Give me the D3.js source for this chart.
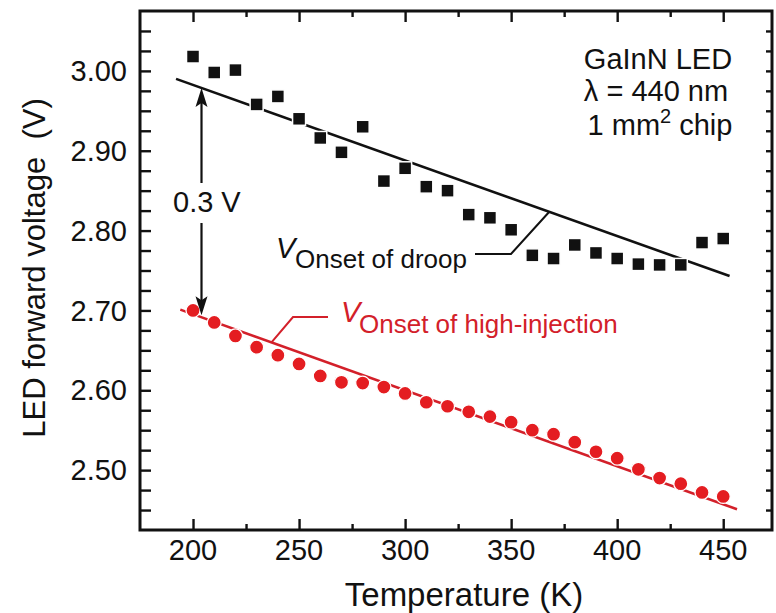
<!DOCTYPE html>
<html>
<head>
<meta charset="utf-8">
<script src="https://cdn.jsdelivr.net/npm/d3@7"></script>
<style>
  html, body { margin: 0; padding: 0; background: #ffffff; }
  svg { display: block; font-family: "Liberation Sans", Arial, Helvetica, sans-serif; }
</style>
</head>
<body>
<svg id="chart" width="776" height="613"></svg>
<script>
// ---------------- data ----------------
const temperatures = [200, 210, 220, 230, 240, 250, 260, 270, 280, 290, 300, 310, 320, 330, 340, 350, 360, 370, 380, 390, 400, 410, 420, 430, 440, 450];
const vOnsetDroop = [3.018, 2.998, 3.001, 2.958, 2.968, 2.940, 2.916, 2.898, 2.930, 2.862, 2.878, 2.855, 2.850, 2.820, 2.816, 2.801, 2.769, 2.765, 2.782, 2.772, 2.765, 2.758, 2.757, 2.757, 2.785, 2.790];
const vOnsetHighInj = [2.700, 2.685, 2.668, 2.654, 2.644, 2.633, 2.618, 2.610, 2.609, 2.604, 2.596, 2.585, 2.580, 2.573, 2.567, 2.560, 2.550, 2.545, 2.535, 2.523, 2.515, 2.501, 2.490, 2.483, 2.472, 2.467];
const droopFit = [[192, 2.990], [453, 2.743]];
const highInjFit = [[194, 2.701], [456.5, 2.451]];
const xMajorTicks = [200, 250, 300, 350, 400, 450];
const xMinorTicks = [225, 275, 325, 375, 425];
const yTicks = [2.45, 2.475, 2.50, 2.525, 2.55, 2.575, 2.60, 2.625, 2.65, 2.675, 2.70, 2.725, 2.75, 2.775, 2.80, 2.825, 2.85, 2.875, 2.90, 2.925, 2.95, 2.975, 3.00, 3.025, 3.05];
const yLabelTicks = [2.50, 2.60, 2.70, 2.80, 2.90, 3.00];
const xTitle = "Temperature (K)";
const yTitle = "LED forward voltage\u00a0\u00a0(V)";
const infoLines = ["GaInN LED", "\u03bb = 440 nm"];
const gapLabel = "0.3 V";
const arrowT = 204;

// ---------------- layout ----------------
const L = 140, R = 772, T = 11, B = 530;
const black = "#111111", red = "#d3202a", redDot = "#e41d21";

const svg = d3.select("#chart");
const x = d3.scaleLinear().domain([175, 473]).range([L, R]);
const y = d3.scaleLinear().domain([2.425, 3.075]).range([B, T]);

// ---------------- axes ----------------
const fmtY = d3.format(".2f");
// bottom
const gB = svg.append("g").attr("transform", `translate(0,${B})`);
gB.call(d3.axisBottom(x).tickValues(xMajorTicks).tickSizeInner(-11).tickSizeOuter(0).tickPadding(0).tickFormat(() => ""));
gB.call(g => g.selectAll(".tick text").remove());
const gBm = svg.append("g").attr("transform", `translate(0,${B})`);
gBm.call(d3.axisBottom(x).tickValues(xMinorTicks).tickSizeInner(-6).tickSizeOuter(0).tickFormat(() => ""));
// top
const gT = svg.append("g").attr("transform", `translate(0,${T})`);
gT.call(d3.axisTop(x).tickValues(xMajorTicks).tickSizeInner(-11).tickSizeOuter(0).tickFormat(() => ""));
const gTm = svg.append("g").attr("transform", `translate(0,${T})`);
gTm.call(d3.axisTop(x).tickValues(xMinorTicks).tickSizeInner(-6).tickSizeOuter(0).tickFormat(() => ""));
// left
const gL = svg.append("g").attr("transform", `translate(${L},0)`);
gL.call(d3.axisLeft(y).tickValues(yTicks).tickSizeInner(-11).tickSizeOuter(0).tickFormat(() => ""));
// right
const gR = svg.append("g").attr("transform", `translate(${R},0)`);
gR.call(d3.axisRight(y).tickValues(yTicks).tickSizeInner(-6).tickSizeOuter(0).tickFormat(() => ""));

svg.selectAll(".domain").remove();
svg.selectAll(".tick line").attr("stroke", black).attr("stroke-width", 2.4);
svg.selectAll(".tick text").remove();

// tick labels
svg.append("g").selectAll("text").data(xMajorTicks).join("text")
  .attr("x", d => x(d)).attr("y", 560)
  .attr("text-anchor", "middle").attr("font-size", 29).attr("fill", black)
  .text(d => d);
svg.append("g").selectAll("text").data(yLabelTicks).join("text")
  .attr("x", 127).attr("y", d => y(d)).attr("dy", "0.35em")
  .attr("text-anchor", "end").attr("font-size", 29).attr("fill", black)
  .text(d => fmtY(d));

// frame
svg.append("rect").attr("x", L).attr("y", T).attr("width", R - L).attr("height", B - T)
  .attr("fill", "none").attr("stroke", black).attr("stroke-width", 3);

// titles
svg.append("text").attr("x", 464).attr("y", 606).attr("text-anchor", "middle")
  .attr("font-size", 33).attr("fill", black).text(xTitle);
svg.append("text").attr("transform", "translate(45,268) rotate(-90)").attr("text-anchor", "middle")
  .attr("font-size", 31).attr("fill", black).text(yTitle);

// ---------------- fit lines ----------------
const line = d3.line().x(d => x(d[0])).y(d => y(d[1]));
svg.append("path").attr("d", line(droopFit)).attr("fill", "none").attr("stroke", black).attr("stroke-width", 2.6);
svg.append("path").attr("d", line(highInjFit)).attr("fill", "none").attr("stroke", red).attr("stroke-width", 2.6);

// ---------------- markers ----------------
const sq = 13;
svg.append("g").selectAll("rect").data(temperatures).join("rect")
  .attr("x", (d) => x(d) - sq / 2).attr("y", (d, i) => y(vOnsetDroop[i]) - sq / 2)
  .attr("width", sq).attr("height", sq)
  .attr("fill", black).attr("stroke", "#ffffff").attr("stroke-width", 1.5);
svg.append("g").selectAll("circle").data(temperatures).join("circle")
  .attr("cx", d => x(d)).attr("cy", (d, i) => y(vOnsetHighInj[i])).attr("r", 7)
  .attr("fill", redDot).attr("stroke", "#ffffff").attr("stroke-width", 1.3);

// ---------------- annotations ----------------
// info block
const info = svg.append("text").attr("text-anchor", "middle").attr("font-size", 29).attr("fill", black);
info.append("tspan").attr("x", 658).attr("y", 69).text(infoLines[0]);
info.append("tspan").attr("x", 656).attr("y", 101).text(infoLines[1]);
const l3 = info.append("tspan").attr("x", 660).attr("y", 135);
l3.text("1 mm");
info.append("tspan").attr("font-size", 20).attr("dy", -12).text("2");
info.append("tspan").attr("dy", 12).text(" chip");

// double arrow
const ax = x(arrowT);
const topFitV = droopFit[0][1] + (droopFit[1][1] - droopFit[0][1]) * (arrowT - droopFit[0][0]) / (droopFit[1][0] - droopFit[0][0]);
const botFitV = highInjFit[0][1] + (highInjFit[1][1] - highInjFit[0][1]) * (arrowT - highInjFit[0][0]) / (highInjFit[1][0] - highInjFit[0][0]);
const yTop = y(topFitV), yBot = y(botFitV) - 2;
svg.append("line").attr("x1", ax).attr("x2", ax).attr("y1", yTop + 10).attr("y2", 183)
  .attr("stroke", black).attr("stroke-width", 2.2);
svg.append("line").attr("x1", ax).attr("x2", ax).attr("y1", 223).attr("y2", yBot - 10)
  .attr("stroke", black).attr("stroke-width", 2.2);
svg.append("path").attr("d", `M${ax},${yTop} L${ax - 6},${yTop + 19} L${ax},${yTop + 15} L${ax + 6},${yTop + 19} Z`).attr("fill", black);
svg.append("path").attr("d", `M${ax},${yBot} L${ax - 6},${yBot - 19} L${ax},${yBot - 15} L${ax + 6},${yBot - 19} Z`).attr("fill", black);
svg.append("text").attr("x", 173).attr("y", 212).attr("font-size", 29).attr("fill", black).text(gapLabel);

// V onset of droop label
const dl = svg.append("text").attr("fill", black);
dl.append("tspan").attr("x", 276).attr("y", 258).attr("font-size", 29).attr("font-style", "italic").text("V");
dl.append("tspan").attr("x", 295).attr("y", 268).attr("font-size", 26).text("Onset of droop");
svg.append("path").attr("d", `M475,254 L511,254 L${x(368)},${y(2.8236)}`).attr("fill", "none")
  .attr("stroke", black).attr("stroke-width", 2);

// V onset of high-injection label
const hl = svg.append("text").attr("fill", red);
hl.append("tspan").attr("x", 341).attr("y", 322).attr("font-size", 29).attr("font-style", "italic").text("V");
hl.append("tspan").attr("x", 359).attr("y", 333).attr("font-size", 26).text("Onset of high-injection");
svg.append("path").attr("d", `M328,317 L293,317 L${x(237)},${y(2.660)}`).attr("fill", "none")
  .attr("stroke", red).attr("stroke-width", 2);
</script>
</body>
</html>
